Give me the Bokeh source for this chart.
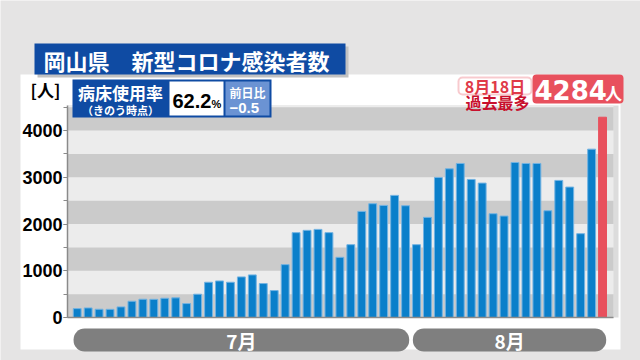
from bokeh.plotting import figure
from bokeh.models import (Range1d, BoxAnnotation, Label, SingleIntervalTicker,
                          ColumnDataSource, LinearAxis, FixedTicker)
from bokeh.embed import file_html
from bokeh.resources import INLINE

# ---- data ----
days = list(range(1, 50))  # 7/1 .. 8/18
cases = [190, 205, 177, 175, 227, 348, 391, 389, 412, 420,
         298, 498, 754, 782, 754, 868, 911, 726, 576, 1131,
         1815, 1864, 1885, 1815, 1288, 1558, 2270, 2434, 2398, 2612, 2391,
         1558, 2142, 2996, 3181, 3295, 2953, 2875, 2220, 2170, 3316,
         3295, 3295, 2284, 2932, 2790, 1793, 3601, 4284]
months = ["7月", "8月"]
month_first = [1, 32]
month_last = [31, 49]
title_text = "岡山県　新型コロナ感染者数"
unit_text = "[人]"
bed_label = "病床使用率"
bed_note = "（きのう時点）"
bed_rate = "62.2"
bed_diff_label = "前日比"
bed_diff = "−0.5"
record_date = "8月18日"
record_value = "4284"
record_note = "過去最多"

# ---- layout (frame covers the whole canvas) ----
W, H = 640, 360
PX_DAY = 10.945          # pixels per day
PX_UNIT = 0.04675        # pixels per case
XS = 1 - 76.7 / PX_DAY
XE = 1 + (W - 76.7) / PX_DAY
YS = -(H - 317) / PX_UNIT
YE = 317 / PX_UNIT

def dx(X):
    return XS + X / W * (XE - XS)

def dy(Y):
    return YE - Y / H * (YE - YS)

FONT = "Noto Sans CJK JP"
NUMFONT = "Liberation Sans"
BLUE = "#0f4ba3"
BAR = "#0a7fca"
RED = "#e8505d"
BG = "#e5e4e4"

p = figure(width=W, height=H, output_backend="svg", toolbar_location=None,
           x_range=Range1d(XS, XE), y_range=Range1d(YS, YE), title=None,
           x_axis_location=None, y_axis_location=None, min_border=0)
p.background_fill_color = BG
p.border_fill_color = BG
p.outline_line_color = None
p.grid.visible = False

def box(x0, x1, y0, y1, color, radius=0, lc=None, lw=1, level="annotation"):
    kw = dict(left=dx(x0), right=dx(x1), top=dy(y0), bottom=dy(y1),
              fill_color=color, fill_alpha=1, line_color=lc, line_width=lw, level=level)
    if radius:
        kw["border_radius"] = radius
    p.add_layout(BoxAnnotation(**kw))

def label(X, Y, text, size, color="white", align="left", font=FONT, style="bold"):
    p.add_layout(Label(x=dx(X), y=dy(Y), text=text, text_font=font,
                       text_font_size=f"{size}px", text_font_style=style,
                       text_color=color, text_align=align, text_baseline="middle"))

PL, PR, PT = 67, 613, 105
# white panel and plot area
box(20, 620, 74, 349, "white", level="underlay")
box(PL, PR + 5, PT, 317, "#dcdcdc", level="underlay")
box(PL, PR, PT, 317, "#ececec", level="underlay")
for lo in range(0, 4500, 1000):
    p.add_layout(BoxAnnotation(left=dx(PL), right=dx(PR), bottom=lo,
                               top=min(lo + 500, dy(PT)), fill_color="#cbcbcb",
                               fill_alpha=1, line_color=None, level="underlay"))

colors = [BAR] * (len(days) - 1) + [RED]
lines = ["#73b3e2"] * (len(days) - 1) + [RED]
src = ColumnDataSource(dict(x=days, top=cases, color=colors, lc=lines))
p.vbar(x="x", top="top", width=0.72, source=src, fill_color="color", line_color="lc", line_width=1)

# axes
yax = LinearAxis(fixed_location=dx(PL), bounds=(0, dy(PT)),
                 ticker=SingleIntervalTicker(interval=1000, num_minor_ticks=2))
yax.axis_line_color = "#8a8a8a"
yax.axis_line_width = 1.5
yax.major_tick_line_color = "#8a8a8a"
yax.minor_tick_line_color = "#8a8a8a"
yax.major_tick_out = 4
yax.major_tick_in = 0
yax.minor_tick_out = 4
yax.minor_tick_in = 0
yax.major_label_standoff = 1
yax.major_label_text_font = NUMFONT
yax.major_label_text_font_style = "bold"
yax.major_label_text_font_size = "18px"
yax.major_label_text_color = "black"
p.add_layout(yax, "left")

xax = LinearAxis(fixed_location=0, bounds=(dx(PL), dx(PR)),
                 ticker=FixedTicker(ticks=[]))
xax.axis_line_color = "#8a8a8a"
xax.axis_line_width = 1.5
xax.major_tick_line_color = None
xax.minor_tick_line_color = None
p.add_layout(xax, "below")

# title
box(37, 348, 46, 77, "#c2c2c2")
box(34, 345, 43, 74, BLUE)
label(43, 59, title_text, 22)

# unit
label(45, 89, unit_text, 17, color="black", align="center")

# bed occupancy box
box(72, 271, 79, 117, BLUE)
box(169, 223, 81, 115, "white")
box(225, 269, 81, 115, "#6b93d3")
label(120, 92, bed_label, 17, align="center")
label(120, 109, bed_note, 11, align="center")
label(172, 100, bed_rate, 20, color="black", font=NUMFONT)
label(211, 103, "%", 11, color="black", font=NUMFONT)
label(247, 92, bed_diff_label, 12, align="center")
label(229, 107, bed_diff, 15, font=NUMFONT)

# record annotation
box(458, 531, 77, 94, "white", radius=4, lc=RED, lw=2)
label(494.5, 85.5, record_date, 16, color="#e03a48", align="center")
box(532, 623, 74, 103, RED, radius=4)
label(534, 89, record_value, 26, font="DejaVu Sans")
label(613, 92, "人", 17, align="center")
label(497, 101, record_note, 16, color="#c8102e", align="center")

# month pills
for m, f, l in zip(months, month_first, month_last):
    p.add_layout(BoxAnnotation(left=f - 0.33, right=l + 0.33, top=dy(328), bottom=dy(351),
                               fill_color="#7f7f7f", fill_alpha=1, line_color=None,
                               border_radius=11))
    p.add_layout(Label(x=(f + l) / 2, y=dy(339.5), text=m, text_font=FONT,
                       text_font_size="19px", text_font_style="bold", text_color="white",
                       text_align="center", text_baseline="middle"))

open("out.html", "w").write(file_html(p, INLINE))
